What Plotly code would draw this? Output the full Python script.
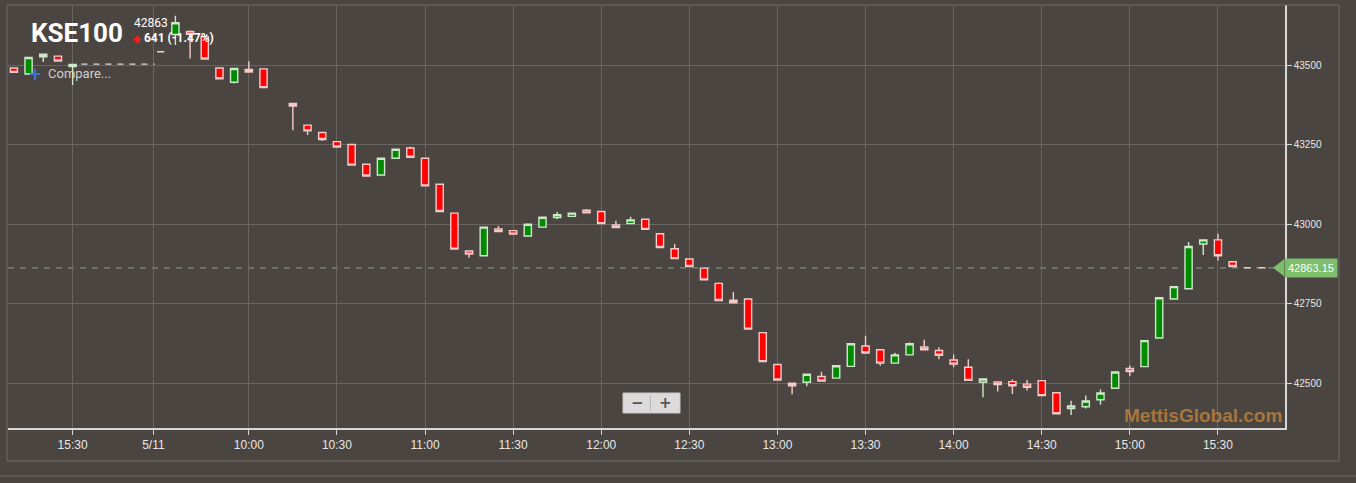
import plotly.graph_objects as go

# ---------------- data ----------------
times = [
    "2018-05-10 15:10", "2018-05-10 15:15", "2018-05-10 15:20", "2018-05-10 15:25", "2018-05-10 15:30",
    "2018-05-11 09:30", "2018-05-11 09:35", "2018-05-11 09:40", "2018-05-11 09:45", "2018-05-11 09:50",
    "2018-05-11 09:55", "2018-05-11 10:00", "2018-05-11 10:05", "2018-05-11 10:15", "2018-05-11 10:20",
    "2018-05-11 10:25", "2018-05-11 10:30", "2018-05-11 10:35", "2018-05-11 10:40", "2018-05-11 10:45",
    "2018-05-11 10:50", "2018-05-11 10:55", "2018-05-11 11:00", "2018-05-11 11:05", "2018-05-11 11:10",
    "2018-05-11 11:15", "2018-05-11 11:20", "2018-05-11 11:25", "2018-05-11 11:30", "2018-05-11 11:35",
    "2018-05-11 11:40", "2018-05-11 11:45", "2018-05-11 11:50", "2018-05-11 11:55", "2018-05-11 12:00",
    "2018-05-11 12:05", "2018-05-11 12:10", "2018-05-11 12:15", "2018-05-11 12:20", "2018-05-11 12:25",
    "2018-05-11 12:30", "2018-05-11 12:35", "2018-05-11 12:40", "2018-05-11 12:45", "2018-05-11 12:50",
    "2018-05-11 12:55", "2018-05-11 13:00", "2018-05-11 13:05", "2018-05-11 13:10", "2018-05-11 13:15",
    "2018-05-11 13:20", "2018-05-11 13:25", "2018-05-11 13:30", "2018-05-11 13:35", "2018-05-11 13:40",
    "2018-05-11 13:45", "2018-05-11 13:50", "2018-05-11 13:55", "2018-05-11 14:00", "2018-05-11 14:05",
    "2018-05-11 14:10", "2018-05-11 14:15", "2018-05-11 14:20", "2018-05-11 14:25", "2018-05-11 14:30",
    "2018-05-11 14:35", "2018-05-11 14:40", "2018-05-11 14:45", "2018-05-11 14:50", "2018-05-11 14:55",
    "2018-05-11 15:00", "2018-05-11 15:05", "2018-05-11 15:10", "2018-05-11 15:15", "2018-05-11 15:20",
    "2018-05-11 15:25", "2018-05-11 15:30", "2018-05-11 15:35", "2018-05-11 15:40", "2018-05-11 15:45",
]
opens = [
    43492, 43473, 43527, 43529, 43496,
    43543, 43597, 43607, 43590, 43492, 43447, 43487, 43489, 43380, 43312,
    43289, 43260, 43251, 43189, 43155, 43208, 43240, 43208, 43126, 43035,
    42916, 42901, 42985, 42980, 42963, 42991, 43021, 43025, 43044, 43040,
    42998, 43002, 43016, 42970, 42923, 42891, 42862, 42814, 42761, 42765,
    42659, 42559, 42500, 42503, 42521, 42516, 42553, 42617, 42605, 42563,
    42589, 42614, 42603, 42573, 42550, 42503, 42504, 42505, 42497, 42508,
    42470, 42420, 42426, 42448, 42484, 42546, 42552, 42642, 42765, 42797,
    42938, 42951, 42882, 42863.15, 42863.15,
]
highs = [
    43494, 43527, 43536, 43531, 43505,
    43544, 43656, 43610, 43595, 43494, 43492, 43513, 43491, 43382, 43314,
    43291, 43262, 43253, 43191, 43210, 43238, 43244, 43210, 43128, 43037,
    42918, 42993, 42995, 42982, 43002, 43024, 43039, 43037, 43048, 43042,
    43011, 43024, 43018, 42972, 42938, 42893, 42864, 42817, 42787, 42767,
    42661, 42561, 42502, 42530, 42536, 42557, 42626, 42649, 42607, 42596,
    42628, 42637, 42613, 42590, 42575, 42515, 42506, 42512, 42510, 42510,
    42472, 42445, 42461, 42480, 42537, 42556, 42636, 42771, 42806, 42944,
    42953, 42970, 42884, 42863.15, 42863.15,
]
lows = [
    43476, 43471, 43511, 43512, 43438,
    43542, 43564, 43522, 43518, 43456, 43443, 43477, 43428, 43296, 43281,
    43262, 43241, 43184, 43150, 43153, 43206, 43209, 43119, 43038, 42920,
    42895, 42899, 42975, 42967, 42961, 42989, 43016, 43023, 43034, 43000,
    42988, 43000, 42982, 42925, 42890, 42865, 42823, 42758, 42751, 42668,
    42566, 42508, 42465, 42490, 42505, 42514, 42551, 42593, 42555, 42561,
    42587, 42603, 42575, 42550, 42507, 42456, 42474, 42466, 42477, 42459,
    42402, 42400, 42420, 42432, 42482, 42523, 42550, 42640, 42763, 42795,
    42903, 42886, 42865, 42863.15, 42863.15,
]
closes = [
    43478, 43525, 43535, 43514, 43503,
    43543, 43634, 43598, 43520, 43458, 43490, 43479, 43430, 43372, 43294,
    43267, 43243, 43186, 43152, 43208, 43236, 43211, 43121, 43040, 42922,
    42906, 42991, 42977, 42969, 43000, 43022, 43030, 43035, 43036, 43002,
    42990, 43014, 42984, 42927, 42892, 42867, 42825, 42760, 42753, 42670,
    42568, 42510, 42492, 42528, 42507, 42555, 42624, 42595, 42563, 42589,
    42624, 42605, 42588, 42560, 42509, 42513, 42496, 42492, 42487, 42461,
    42404, 42428, 42444, 42469, 42535, 42537, 42634, 42769, 42804, 42930,
    42951, 42901, 42867, 42863.15, 42863.15,
]

last_value = 42863.15
prev_close = 43504.15
change_pts = 641
change_pct = -1.47

x_tick_vals = ["2018-05-10 15:30", "2018-05-11 09:27:30", "2018-05-11 10:00", "2018-05-11 10:30",
               "2018-05-11 11:00", "2018-05-11 11:30", "2018-05-11 12:00", "2018-05-11 12:30",
               "2018-05-11 13:00", "2018-05-11 13:30", "2018-05-11 14:00", "2018-05-11 14:30",
               "2018-05-11 15:00", "2018-05-11 15:30"]
x_tick_text = ["15:30", "5/11", "10:00", "10:30", "11:00", "11:30", "12:00", "12:30",
               "13:00", "13:30", "14:00", "14:30", "15:00", "15:30"]
y_tick_vals = [42500, 42750, 43000, 43250, 43500]
y_tick_text = ["42500", "42750", "43000", "43250", "43500"]

# ---------------- styling ----------------
BG = "#4a4541"
GRID = "#6a6561"
AXIS = "#d6d6d6"
TXT = "#e6e6e6"

W, H = 1356, 483
ML, MR, MT, MB = 8, 71, 5, 55
PW, PH = W - ML - MR, H - MT - MB


def px(xp):
    return (xp - ML) / PW


def py(yp):
    return (H - MB - yp) / PH


fig = go.Figure()

# previous close dashed line across the overnight gap
fig.add_trace(go.Scatter(
    x=["2018-05-10 15:33", "2018-05-11 09:28"], y=[prev_close, prev_close],
    mode="lines", line=dict(color="#d9d9d9", width=1.3, dash="6px,6px"),
    hoverinfo="skip", showlegend=False,
))

fig.add_trace(go.Candlestick(
    x=times, open=opens, high=highs, low=lows, close=closes,
    increasing=dict(fillcolor="#008a00", line=dict(color="#cfe6cb", width=1.4)),
    decreasing=dict(fillcolor="#ff0000", line=dict(color="#f6c9c9", width=1.4)),
    whiskerwidth=0, showlegend=False,
))

shapes = []
# current value dashed line
shapes.append(dict(type="line", xref="paper", yref="y", x0=0, x1=px(1274),
                   y0=last_value, y1=last_value,
                   line=dict(color="#7f8f73", width=1.2, dash="6px,6px"), layer="below"))
# outer frame
shapes.append(dict(type="rect", xref="paper", yref="paper", x0=px(7), x1=px(1339),
                   y0=py(461), y1=py(5), line=dict(color="#6f6a66", width=1)))
shapes.append(dict(type="line", xref="paper", yref="paper", x0=px(0), x1=px(1356),
                   y0=py(476), y1=py(476), line=dict(color="#6f6a66", width=1)))
# zoom buttons
shapes.append(dict(type="rect", xref="paper", yref="paper", x0=px(623), x1=px(680),
                   y0=py(413), y1=py(393), fillcolor="#dcdada", line=dict(color="#c8c6c6", width=1)))
shapes.append(dict(type="line", xref="paper", yref="paper", x0=px(650.5), x1=px(650.5),
                   y0=py(411), y1=py(395), line=dict(color="#b8b6b6", width=1)))
# price tag arrow
tag_half = 8.5 / PH * 1330
shapes.append(dict(type="path", xref="paper", yref="y",
                   path=f"M {px(1273)},{last_value} L {px(1284)},{last_value + tag_half} "
                        f"L {px(1284)},{last_value - tag_half} Z",
                   fillcolor="#7dbd6c", line=dict(width=0)))

annotations = [
    dict(text="<b>KSE100</b>", xref="paper", yref="paper", x=px(29), y=py(33),
         xanchor="left", yanchor="middle", showarrow=False,
         font=dict(family="Roboto", size=26, color="#ffffff")),
    dict(text=f"{last_value:.0f}", xref="paper", yref="paper", x=px(132), y=py(23),
         xanchor="left", yanchor="middle", showarrow=False,
         font=dict(family="Roboto", size=12, color="#ffffff")),
    dict(text=f"<span style='color:#ff1a1a;font-size:10px'>◆</span> <b>{change_pts} ({change_pct:.2f}%)</b>",
         xref="paper", yref="paper", x=px(131), y=py(38),
         xanchor="left", yanchor="middle", showarrow=False,
         font=dict(family="Roboto", size=12, color="#ffffff")),
    dict(text="<b>+</b>", xref="paper", yref="paper", x=px(35), y=py(74),
         xanchor="center", yanchor="middle", showarrow=False,
         font=dict(family="DejaVu Sans", size=17, color="#3b73d9")),
    dict(text="Compare...", xref="paper", yref="paper", x=px(46), y=py(73),
         xanchor="left", yanchor="middle", showarrow=False,
         font=dict(family="Roboto", size=13, color="#d2d0ce")),
    dict(text="<b>−</b>", xref="paper", yref="paper", x=px(637), y=py(402.5),
         xanchor="center", yanchor="middle", showarrow=False,
         font=dict(family="DejaVu Sans", size=15, color="#555555")),
    dict(text="<b>+</b>", xref="paper", yref="paper", x=px(665), y=py(402.5),
         xanchor="center", yanchor="middle", showarrow=False,
         font=dict(family="DejaVu Sans", size=15, color="#555555")),
    dict(text="<b>MettisGlobal.com</b>", xref="paper", yref="paper", x=px(1284), y=py(415),
         xanchor="right", yanchor="middle", showarrow=False,
         font=dict(family="Liberation Sans", size=19, color="rgba(196,132,58,0.78)")),
    dict(text=f"{last_value:.2f}", xref="paper", yref="y", x=px(1284), y=last_value,
         xanchor="left", yanchor="middle", showarrow=False, bgcolor="#7dbd6c",
         borderpad=3, font=dict(family="Liberation Sans", size=11, color="#ffffff")),
]

fig.update_layout(
    width=W, height=H,
    margin=dict(l=ML, r=MR, t=MT, b=MB),
    paper_bgcolor=BG, plot_bgcolor=BG,
    showlegend=False,
    shapes=shapes, annotations=annotations,
    boxgap=0.3,
    xaxis=dict(
        type="date",
        range=["2018-05-10 15:08", "2018-05-11 15:52:50"],
        rangebreaks=[dict(bounds=["2018-05-10 15:45", "2018-05-11 09:15"])],
        rangeslider=dict(visible=False),
        tickmode="array", tickvals=x_tick_vals, ticktext=x_tick_text,
        showgrid=True, gridcolor=GRID, gridwidth=1,
        showline=True, linecolor=AXIS, linewidth=1.5,
        ticks="outside", ticklen=5, tickcolor=AXIS,
        tickfont=dict(family="Liberation Sans", size=12, color=TXT),
        zeroline=False, fixedrange=True,
    ),
    yaxis=dict(
        side="right",
        range=[42359, 43690],
        tickmode="array", tickvals=y_tick_vals, ticktext=y_tick_text,
        showgrid=True, gridcolor=GRID, gridwidth=1,
        showline=True, linecolor=AXIS, linewidth=1.5,
        ticks="outside", ticklen=5, tickcolor=AXIS,
        tickfont=dict(family="Liberation Sans", size=10, color=TXT),
        zeroline=False, fixedrange=True,
    ),
)

fig.write_html(
    "out.html",
    config={"displayModeBar": False},
    post_script="document.body.style.margin='0px';document.body.style.overflow='hidden';"
                "document.body.style.background='" + BG + "';",
)
